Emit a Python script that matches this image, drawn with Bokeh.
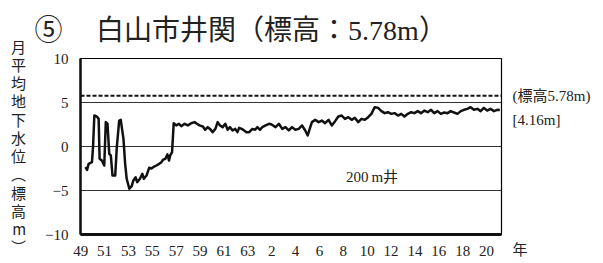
from bokeh.plotting import figure
from bokeh.models import Range1d, FixedTicker, Span, Label, LinearAxis
from bokeh.embed import file_html
from bokeh.resources import INLINE

# ---- data ----
years = [1974.39, 1974.53, 1974.66, 1974.94, 1975.03, 1975.14, 1975.35, 1975.50, 1975.58, 1975.77,
         1975.97, 1976.10, 1976.24, 1976.39, 1976.52, 1976.66, 1976.89, 1977.02, 1977.22, 1977.35,
         1977.58, 1977.72, 1977.85, 1978.07, 1978.27, 1978.41, 1978.60, 1978.73, 1978.96, 1979.16,
         1979.29, 1979.51, 1979.73, 1979.92, 1980.07, 1980.34, 1980.57, 1980.76, 1980.90, 1981.09,
         1981.26, 1981.40, 1981.50, 1981.65, 1981.79, 1982.00, 1982.23, 1982.42, 1982.70, 1982.98,
         1983.25, 1983.54, 1983.73, 1983.95, 1984.23, 1984.42, 1984.64, 1984.83, 1985.05, 1985.28,
         1985.47, 1985.66, 1985.89, 1986.11, 1986.31, 1986.50, 1986.72, 1986.94, 1987.13, 1987.27,
         1987.49, 1987.69, 1987.88, 1988.11, 1988.38, 1988.61, 1988.80, 1989.02, 1989.21, 1989.49,
         1989.77, 1989.99,
         1990.32, 1990.60, 1990.88, 1991.15, 1991.43, 1991.70, 1991.98, 1992.26, 1992.54, 1992.81,
         1993.01, 1993.23, 1993.37, 1993.64, 1993.93, 1994.20, 1994.47, 1994.76, 1995.03, 1995.31,
         1995.58, 1995.86, 1996.14, 1996.42, 1996.70, 1996.96, 1997.25, 1997.52, 1997.80, 1998.08,
         1998.35, 1998.63, 1998.91, 1999.19, 1999.46, 1999.74, 2000.02, 2000.29, 2000.58, 2000.85,
         2001.12, 2001.40, 2001.68, 2001.96, 2002.23, 2002.51, 2002.79, 2003.07, 2003.35, 2003.61,
         2003.90, 2004.17, 2004.45, 2004.73, 2005.00, 2005.28, 2005.56, 2005.84, 2006.11, 2006.39,
         2006.66, 2006.94, 2007.23, 2007.50, 2007.77, 2008.05, 2008.33, 2008.61, 2008.89, 2009.11]

level = [-2.35, -2.65, -1.97, -1.78, -0.07, 3.52, 3.40, 3.14, -1.40, -1.60,
         -2.16, 2.77, 2.60, -0.83, -1.00, -3.30, -3.30, -0.10, 2.95, 3.03,
         0.87, -1.97, -3.67, -4.80, -4.50, -3.86, -3.50, -4.05, -3.67, -3.10,
         -3.67, -3.30, -2.42, -2.50, -2.35, -2.16, -1.97, -1.78, -1.50, -1.40,
         -0.90, -1.60, -1.00, -0.64, 2.65, 2.40, 2.58, 2.30, 2.58, 2.40,
         2.65, 2.77, 2.58, 2.40, 2.27, 1.90, 2.20, 2.00, 1.63, 2.00,
         2.77, 2.40, 2.20, 2.58, 1.90, 2.20, 1.82, 2.00, 1.63, 2.12,
         2.00, 1.82, 1.63, 1.63, 2.00, 1.90, 2.20, 1.90, 2.20, 2.40,
         2.58, 2.50,
         2.20, 2.58, 2.00, 2.20, 1.82, 2.20, 1.90, 2.00, 2.39, 1.82,
         1.25, 2.20, 2.77, 3.03, 2.77, 2.95, 2.65, 3.03, 2.39, 2.88,
         3.41, 3.52, 3.14, 3.33, 3.03, 3.26, 2.77, 3.14, 3.03, 3.33,
         3.71, 4.47, 4.39, 4.02, 3.79, 3.90, 3.71, 3.79, 3.52, 3.71,
         3.41, 3.71, 3.90, 3.79, 4.02, 3.79, 4.09, 3.90, 4.17, 3.79,
         4.02, 3.71, 3.86, 3.79, 4.02, 3.86, 3.71, 4.02, 4.17, 4.28,
         4.47, 4.17, 4.28, 4.02, 4.39, 4.09, 4.28, 4.02, 4.17, 4.16]

tick_years = [1974, 1976, 1978, 1980, 1982, 1984, 1986, 1988, 1990,
              1992, 1994, 1996, 1998, 2000, 2002, 2004, 2006, 2008]
tick_labels = ["49", "51", "53", "55", "57", "59", "61", "63", "2",
               "4", "6", "8", "10", "12", "14", "16", "18", "20"]
y_ticks = [-10, -5, 0, 5, 10]
y_tick_labels = ["\u221210", "\u22125", "0", "5", "10"]
grid_levels = [-5, 0, 5]
ELEVATION = 5.78
LATEST = 4.16
WELL_DEPTH = "200\u2009m井"
TITLE = "⑤\u3000\u2009白山市井関（標高：5.78m）"
Y_LABEL = "月平均地下水位︵標高m︶"
YEAR_UNIT = "年"

# ---- styling / layout ----
SERIF = "'Liberation Serif', 'Noto Sans CJK JP'"
CJK = "'Noto Sans CJK JP'"
W, H = 603, 263
FL, FR, FT, FB = 80, 501, 58, 234   # frame edges in picture pixels
NOTE2_AT = 3.0                      # level beside which the [latest] note sits
UNIT_AT = -9.99                     # bottom edge: the year unit hangs below it

p = figure(width=W, height=H, output_backend="svg", toolbar_location=None,
           x_range=Range1d(1973.98, 2009.25), y_range=Range1d(-10, 10),
           min_border_left=FL, min_border_right=W - FR,
           min_border_top=FT, min_border_bottom=H - FB)
p.background_fill_color = "white"
p.border_fill_color = "white"
p.outline_line_color = "black"
p.outline_line_width = 1.2

p.title.text = TITLE
p.title.text_font = SERIF
p.title.text_font_size = "28px"
p.title.text_font_style = "normal"
p.title.text_color = "#222222"
p.title.text_line_height = 0.8
p.title.offset = 34 - FL
p.title.standoff = 23
p.title.vertical_align = "middle"

xa = p.xaxis[0]
xa.ticker = FixedTicker(ticks=tick_years)
xa.major_label_overrides = {t: l for t, l in zip(tick_years, tick_labels)}
xa.major_tick_in = 0
xa.major_tick_out = 0
xa.minor_tick_in = 0
xa.minor_tick_out = 0
xa.axis_line_width = 3
xa.axis_line_color = "#111111"
xa.major_label_standoff = 11
xa.major_label_text_font = SERIF
xa.major_label_text_font_size = "15px"
xa.major_label_text_color = "#222222"

ya = p.yaxis[0]
ya.ticker = FixedTicker(ticks=y_ticks)
ya.major_label_overrides = {t: l for t, l in zip(y_ticks, y_tick_labels)}
ya.major_tick_in = 0
ya.major_tick_out = 0
ya.minor_tick_in = 0
ya.minor_tick_out = 0
ya.axis_line_width = 2.5
ya.axis_line_color = "#111111"
ya.major_label_standoff = 12
ya.major_label_text_font = SERIF
ya.major_label_text_font_size = "15px"
ya.major_label_text_color = "#222222"
ya.axis_label = "\n".join(Y_LABEL)
ya.axis_label_text_font = CJK
ya.axis_label_text_font_size = "15px"
ya.axis_label_text_font_style = "normal"
ya.axis_label_text_color = "#222222"
ya.axis_label_text_line_height = 0.87
ya.axis_label_standoff = 16
ya.axis_label_orientation = "horizontal"

# right-hand notes (and the year unit below the corner) as an extra axis
ra = LinearAxis(ticker=FixedTicker(ticks=[ELEVATION, NOTE2_AT, UNIT_AT]),
                major_label_overrides={ELEVATION: "(標高%.2fm)" % ELEVATION,
                                       NOTE2_AT: "[%.2fm]" % LATEST,
                                       UNIT_AT: "\n" + YEAR_UNIT})
ra.axis_line_color = None
ra.major_tick_in = 0
ra.major_tick_out = 0
ra.minor_tick_in = 0
ra.minor_tick_out = 0
ra.major_label_standoff = 11
ra.major_label_text_font = SERIF
ra.major_label_text_font_size = "15px"
ra.major_label_text_color = "#222222"
ra.major_label_text_line_height = 1.9
p.add_layout(ra, "right")

p.xgrid.visible = False
p.ygrid.ticker = FixedTicker(ticks=grid_levels)
p.ygrid.grid_line_color = "#333333"
p.ygrid.grid_line_width = 1

p.add_layout(Span(location=ELEVATION, dimension="width", line_color="#111111",
                  line_width=2, line_dash="4 2"))

p.line(years, level, line_color="#111111", line_width=2.5, line_join="round")

p.add_layout(Label(x=1998.4, y=-3.5, text=WELL_DEPTH, text_font=SERIF,
                   text_font_size="15px", text_color="#222222",
                   text_align="center", text_baseline="middle"))

open("out.html", "w").write(file_html(p, INLINE))
